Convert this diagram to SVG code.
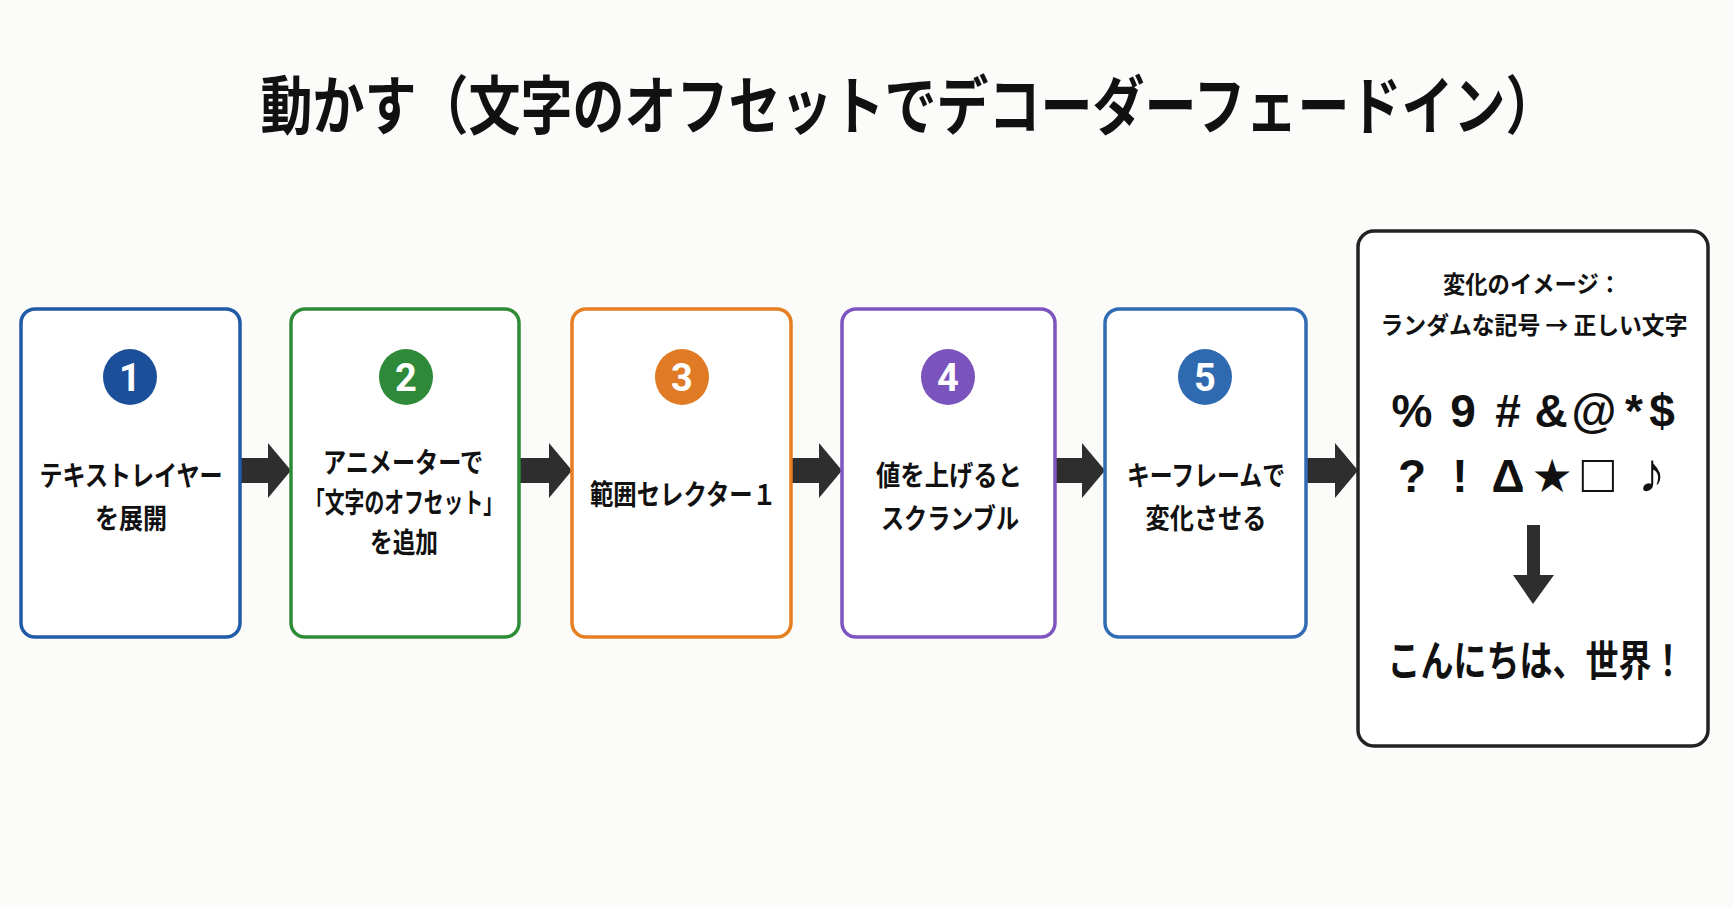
<svg xmlns="http://www.w3.org/2000/svg" width="1733" height="907" viewBox="0 0 1733 907">
<style>
.jp{font-family:"Noto Sans CJK JP","Noto Sans",sans-serif;font-weight:700;fill:#111;text-anchor:middle}
.t{font-size:28px}
.box{fill:#fff;stroke-width:3.5}
.num{font-family:"Roboto","Liberation Sans",sans-serif;font-weight:700;font-size:38px;fill:#fff;text-anchor:middle}
.sym{font-family:"Liberation Sans","DejaVu Sans",sans-serif;font-weight:700;font-size:46px;fill:#111;text-anchor:middle}
.arr{fill:#2e2e2e}
</style>
<rect width="1733" height="907" fill="#fbfbf9"/>
<text class="jp" x="909" y="106" font-size="52" transform="scale(1,1.22)">動かす（文字のオフセットでデコーダーフェードイン）</text>

<g id="connectors">
<path class="arr" d="M240 458H268V443L291 470.5L268 498V483H240Z"/>
<path class="arr" d="M519 458H549V443L572 470.5L549 498V483H519Z"/>
<path class="arr" d="M791 458H819V443L842 470.5L819 498V483H791Z"/>
<path class="arr" d="M1055 458H1082V443L1105 470.5L1082 498V483H1055Z"/>
<path class="arr" d="M1306 458H1335V443L1358 470.5L1335 498V483H1306Z"/>
</g>

<g id="step1">
<rect class="box" x="21" y="309" width="219" height="328" rx="14" stroke="#1f5ba6"/>
<ellipse cx="130" cy="377" rx="27" ry="28" fill="#1c4f99"/>
<text class="num" x="130" y="391">1</text>
<text class="jp t" x="131" y="486" textLength="183" lengthAdjust="spacingAndGlyphs">テキストレイヤー</text>
<text class="jp t" x="131" y="529" textLength="72" lengthAdjust="spacingAndGlyphs">を展開</text>
</g>

<g id="step2">
<rect class="box" x="291" y="309" width="228" height="328" rx="14" stroke="#2e8b36"/>
<ellipse cx="406" cy="377" rx="27" ry="28" fill="#2e8a38"/>
<text class="num" x="406" y="391">2</text>
<text class="jp t" x="403" y="473" textLength="160" lengthAdjust="spacingAndGlyphs">アニメーターで</text>
<text class="jp t" x="404" y="513" textLength="198" lengthAdjust="spacingAndGlyphs">「文字のオフセット」</text>
<text class="jp t" x="404" y="553" textLength="68" lengthAdjust="spacingAndGlyphs">を追加</text>
</g>

<g id="step3">
<rect class="box" x="572" y="309" width="219" height="328" rx="14" stroke="#e67e22"/>
<ellipse cx="682" cy="377" rx="27" ry="28" fill="#e07a24"/>
<text class="num" x="682" y="391">3</text>
<text class="jp t" x="683" y="505" textLength="186" lengthAdjust="spacingAndGlyphs">範囲セレクター１</text>
</g>

<g id="step4">
<rect class="box" x="842" y="309" width="213" height="328" rx="14" stroke="#7d55c1"/>
<ellipse cx="948" cy="377" rx="27" ry="28" fill="#7a53bd"/>
<text class="num" x="948" y="391">4</text>
<text class="jp t" x="949" y="486" textLength="146" lengthAdjust="spacingAndGlyphs">値を上げると</text>
<text class="jp t" x="950" y="529" textLength="138" lengthAdjust="spacingAndGlyphs">スクランブル</text>
</g>

<g id="step5">
<rect class="box" x="1105" y="309" width="201" height="328" rx="14" stroke="#2f6cb3"/>
<ellipse cx="1205" cy="377" rx="27" ry="28" fill="#2f69b0"/>
<text class="num" x="1205" y="391">5</text>
<text class="jp t" x="1206" y="486" textLength="158" lengthAdjust="spacingAndGlyphs">キーフレームで</text>
<text class="jp t" x="1206" y="529" textLength="121" lengthAdjust="spacingAndGlyphs">変化させる</text>
</g>

<g id="result">
<rect class="box" x="1358" y="231" width="350" height="515" rx="16" stroke="#222"/>
<text class="jp" x="1532" y="293" font-size="24" textLength="178" lengthAdjust="spacingAndGlyphs">変化のイメージ：</text>
<text class="jp" x="1534" y="334" font-size="24" textLength="307" lengthAdjust="spacingAndGlyphs">ランダムな記号 → 正しい文字</text>
<text class="sym" y="427"><tspan x="1412">%</tspan><tspan x="1463">9</tspan><tspan x="1508">#</tspan><tspan x="1551">&amp;</tspan><tspan x="1594">@</tspan><tspan x="1634">*</tspan><tspan x="1662">$</tspan></text>
<text class="sym" y="492"><tspan x="1412">?</tspan><tspan x="1460">!</tspan><tspan x="1508">Δ</tspan><tspan x="1552">★</tspan><tspan x="1598" font-size="54">□</tspan><tspan x="1652" font-size="56">♪</tspan></text>
<path class="arr" d="M1527 525H1540V575H1554L1533 604L1513 575H1527Z"/>
<text class="jp" x="1536" y="532" font-size="33" transform="scale(1,1.27)">こんにちは、世界！</text>
</g>
</svg>
